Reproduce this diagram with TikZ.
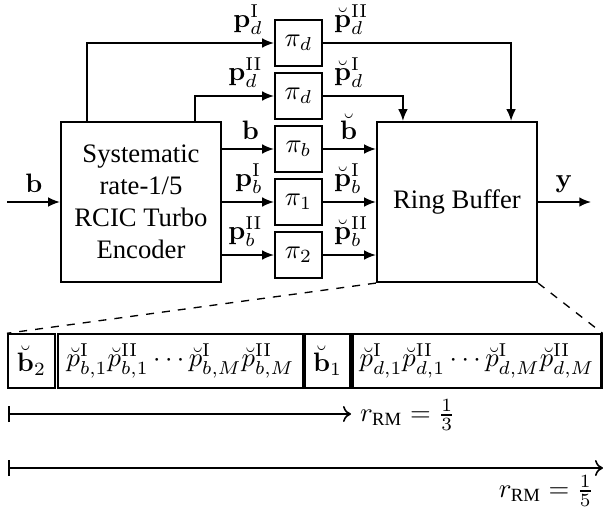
\documentclass[tikz,border=0pt]{standalone}
\usepackage{amsmath}
\usepackage[no-math]{fontspec}
\setmainfont{Liberation Serif}
\usetikzlibrary{arrows.meta,calc}
\begin{document}
\begin{tikzpicture}[x=0.375pt,y=-0.375pt,
  box/.style={draw,line width=0.8pt,inner sep=0pt,align=center},
  bigbox/.style={box,minimum width=60pt,minimum height=60pt},
  pibox/.style={box,minimum width=17.6pt,minimum height=17.25pt},
  cell/.style={box,minimum height=20pt},
  arr/.style={line width=0.6pt,-{Latex[length=4.4pt,width=3.6pt]}},
  rate/.style={line width=0.6pt,{Bar[width=6pt]}-{To[length=3pt,width=6pt]}},
  lbl/.style={inner sep=1pt}]
\useasboundingbox (0,0) rectangle (603,514);
% main blocks
\node[bigbox] (enc) at (141,202) {Systematic\\rate-1/5\\RCIC Turbo\\Encoder};
\node[bigbox] (rb) at (457,202) {Ring Buffer};
% interleavers
\node[pibox] (pd1) at (298.5,43) {$\pi_d$};
\node[pibox] (pd2) at (298.5,96) {$\pi_d$};
\node[pibox] (pb) at (298.5,149) {$\pi_b$};
\node[pibox] (p1) at (298.5,202) {$\pi_1$};
\node[pibox] (p2) at (298.5,255) {$\pi_2$};
% input / output
\coordinate (in) at (7,202);
\coordinate (out) at (591,202);
\draw[arr] (in) -- (enc.west);
\node[lbl,anchor=south] (lin) at (34,196) {$\mathbf{b}$};
\draw[arr] (rb.east) -- (out);
\node[lbl,anchor=south] (lout) at (564,196) {$\mathbf{y}$};
% encoder -> interleavers
\draw[arr] ($(enc.north west)+(27,0)$) |- (pd1.west);
\draw[arr] ($(enc.north east)+(-27,0)$) |- (pd2.west);
\draw[arr] (enc.east |- pb.west) -- (pb.west);
\draw[arr] (enc.east |- p1.west) -- (p1.west);
\draw[arr] (enc.east |- p2.west) -- (p2.west);
\node[lbl,anchor=south east] (l1) at (266,38) {$\mathbf{p}^{\mathrm{I}}_d$};
\node[lbl,anchor=south east] (l2) at (266,91) {$\mathbf{p}^{\mathrm{II}}_d$};
\node[lbl,anchor=south east] (l3) at (262,143) {$\mathbf{b}$};
\node[lbl,anchor=south east] (l4) at (266,197) {$\mathbf{p}^{\mathrm{I}}_b$};
\node[lbl,anchor=south east] (l5) at (266,250) {$\mathbf{p}^{\mathrm{II}}_b$};
% interleavers -> ring buffer
\draw[arr] (pd1.east) -| ($(rb.north east)+(-27,0)$);
\draw[arr] (pd2.east) -| ($(rb.north west)+(27,0)$);
\draw[arr] (pb.east) -- (rb.west |- pb.east);
\draw[arr] (p1.east) -- (rb.west |- p1.east);
\draw[arr] (p2.east) -- (rb.west |- p2.east);
\node[lbl,anchor=south west] (r1) at (331,38) {$\breve{\mathbf{p}}^{\mathrm{II}}_d$};
\node[lbl,anchor=south west] (r2) at (331,91) {$\breve{\mathbf{p}}^{\mathrm{I}}_d$};
\node[lbl,anchor=south west] (r3) at (337,143) {$\breve{\mathbf{b}}$};
\node[lbl,anchor=south west] (r4) at (331,197) {$\breve{\mathbf{p}}^{\mathrm{I}}_b$};
\node[lbl,anchor=south west] (r5) at (331,250) {$\breve{\mathbf{p}}^{\mathrm{II}}_b$};
% buffer layout strip
\node[cell,minimum width=17.6pt] (sb2) at (31.5,361) {$\breve{\mathbf{b}}_2$};
\node[cell,minimum width=91.9pt] (spb) at (180.5,361) {$\breve{p}^{\mathrm{I}}_{b,1}\breve{p}^{\mathrm{II}}_{b,1}\cdots\breve{p}^{\mathrm{I}}_{b,M}\breve{p}^{\mathrm{II}}_{b,M}$};
\node[cell,minimum width=16.9pt] (sb1) at (327.5,361) {$\breve{\mathbf{b}}_1$};
\node[cell,minimum width=93.4pt] (spd) at (477,361) {$\breve{p}^{\mathrm{I}}_{d,1}\breve{p}^{\mathrm{II}}_{d,1}\cdots\breve{p}^{\mathrm{I}}_{d,M}\breve{p}^{\mathrm{II}}_{d,M}$};
\draw[dashed,line width=0.5pt] (rb.south west) -- (sb2.north west);
\draw[dashed,line width=0.5pt] (rb.south east) -- (spd.north east);
% rates
\coordinate (a1) at (8,414);
\coordinate (b1) at (351,414);
\coordinate (a2) at (8,468);
\coordinate (b2) at (603,468);
\draw[rate] (a1) -- (b1);
\draw[rate] (a2) -- (b2);
\node[lbl,anchor=west] (rt1) at (357,415) {$r_{\text{RM}}=\frac{1}{3}$};
\node[lbl,anchor=east] (rt2) at (597,491) {$r_{\text{RM}}=\frac{1}{5}$};
\end{tikzpicture}
\end{document}
